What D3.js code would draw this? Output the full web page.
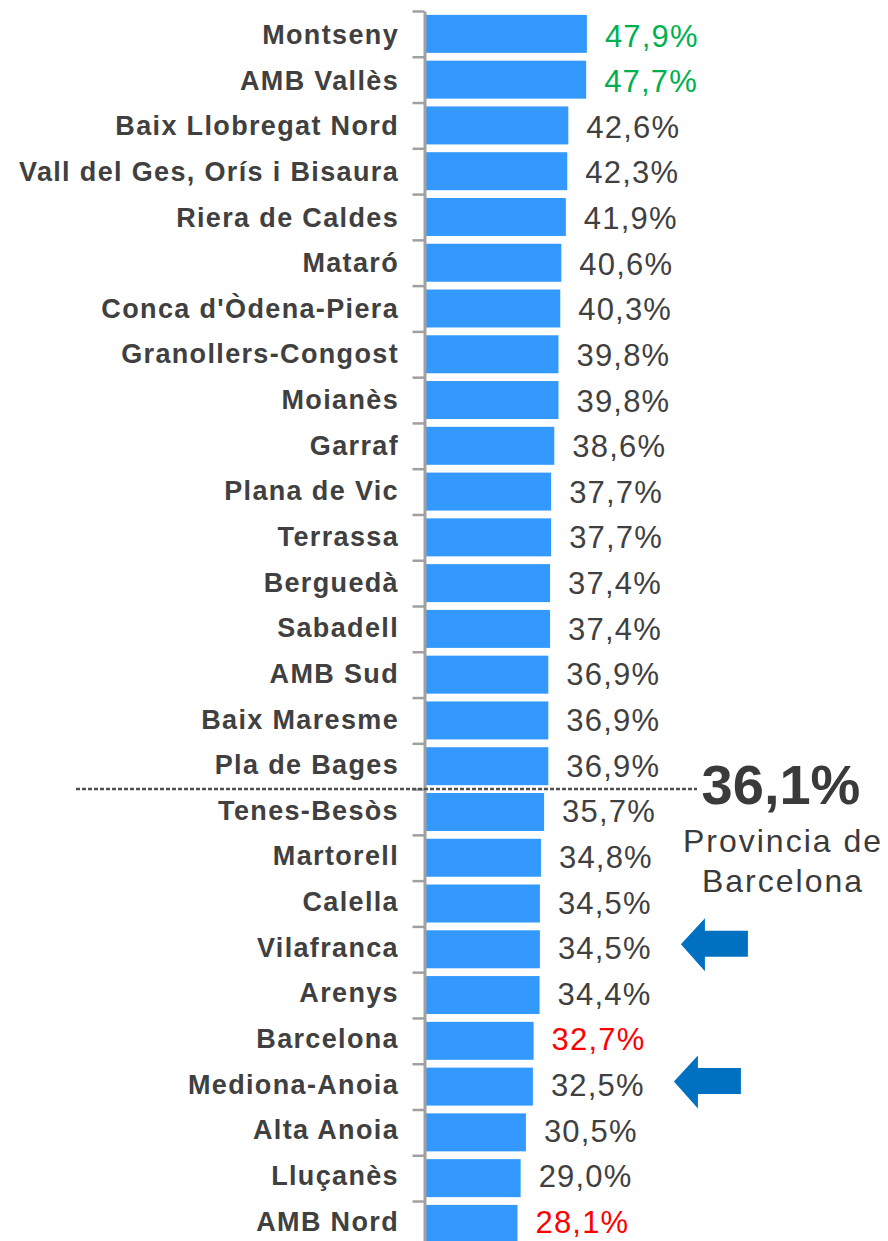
<!DOCTYPE html>
<html>
<head>
<meta charset="utf-8">
<script src="https://cdn.jsdelivr.net/npm/d3@7"></script>
<style>
    body { margin: 0; background: #fff; }
    svg { display: block; font-family: "Liberation Sans", Arial, sans-serif; }
</style>
</head>
<body>
<svg width="888" height="1241"></svg>
<script>
let comarques = ['Montseny', 'AMB Vallès', 'Baix Llobregat Nord', 'Vall del Ges, Orís i Bisaura',
        'Riera de Caldes', 'Mataró', "Conca d'Òdena-Piera", 'Granollers-Congost', 'Moianès', 'Garraf',
        'Plana de Vic', 'Terrassa', 'Berguedà', 'Sabadell', 'AMB Sud', 'Baix Maresme', 'Pla de Bages',
        'Tenes-Besòs', 'Martorell', 'Calella', 'Vilafranca', 'Arenys', 'Barcelona', 'Mediona-Anoia',
        'Alta Anoia', 'Lluçanès', 'AMB Nord'],
    valors = [47.9, 47.7, 42.6, 42.3, 41.9, 40.6, 40.3, 39.8, 39.8, 38.6, 37.7, 37.7, 37.4, 37.4,
        36.9, 36.9, 36.9, 35.7, 34.8, 34.5, 34.5, 34.4, 32.7, 32.5, 30.5, 29.0, 28.1],
    verds = ['Montseny', 'AMB Vallès'],          // green value labels
    vermells = ['Barcelona', 'AMB Nord'],        // red value labels
    fletxes = ['Vilafranca', 'Mediona-Anoia'],   // rows marked with an arrow
    provincia = 36.1,
    provincia_text = ['Provincia de', 'Barcelona'];

let fmt = v => v.toFixed(1).replace('.', ',') + '%';

let svg = d3.select('svg');

let yIdx = d3.scaleLinear()
    .domain([0, comarques.length])
    .range([11, 11 + comarques.length * 45.77]);

let yScale = d3.scaleBand()
    .domain(comarques)
    .range(yIdx.range())
    .paddingInner(0.17)
    .paddingOuter(0.085);

// text rows run on a slightly tighter pitch than the bars
let yText = d3.scaleLinear()
    .domain([0, comarques.length - 1])
    .range([34, 1220.5]);

let xScale = d3.scaleLinear()
    .domain([2, 50])
    .range([426, 426 + 48 * 3.505]);

let data = comarques.map((c, i) => ({name: c, value: valors[i], i: i}));

// bars
svg.append('g')
    .selectAll('rect')
    .data(data)
    .enter()
    .append('rect')
    .attr('x', xScale(2))
    .attr('y', d => yScale(d.name))
    .attr('width', d => xScale(d.value) - xScale(2))
    .attr('height', yScale.bandwidth())
    .style('fill', '#3399FF');

// axis with ticks on the band boundaries
let axis = svg.append('g')
    .attr('transform', 'translate(424.5,0)')
    .call(d3.axisLeft(yIdx)
        .tickValues(d3.range(comarques.length + 1))
        .tickSize(12)
        .tickSizeOuter(0)
        .tickFormat(''));

axis.select('.domain').attr('stroke', '#a0a0a0').attr('stroke-width', 3);
axis.selectAll('.tick line').attr('stroke', '#a0a0a0').attr('stroke-width', 2.5);

// category labels
svg.append('g')
    .selectAll('text')
    .data(data)
    .enter()
    .append('text')
    .attr('x', 399)
    .attr('y', d => yText(d.i) + 10)
    .attr('text-anchor', 'end')
    .style('font-size', '27px')
    .style('font-weight', 'bold')
    .style('letter-spacing', '1.35px')
    .style('fill', '#404040')
    .text(d => d.name);

// value labels
svg.append('g')
    .selectAll('text')
    .data(data)
    .enter()
    .append('text')
    .attr('x', d => xScale(d.value) + 18)
    .attr('y', d => yText(d.i) + 12.5)
    .style('font-size', '31px')
    .style('letter-spacing', '1.2px')
    .style('fill', d => {
        if (verds.includes(d.name)) return '#00B050';
        if (vermells.includes(d.name)) return '#FF0000';
        return '#404040';
    })
    .text(d => fmt(d.value));

// province average line, placed where it falls in the ranking
let pos = valors.findIndex(v => v < provincia),
    yLine = yIdx(pos);

svg.append('line')
    .attr('x1', 76)
    .attr('x2', 697)
    .attr('y1', yLine)
    .attr('y2', yLine)
    .attr('stroke', '#505050')
    .attr('stroke-width', 2.5)
    .attr('stroke-dasharray', '4,2');

let nota = svg.append('g')
    .attr('text-anchor', 'middle')
    .style('fill', '#3a3a3a');

nota.append('text')
    .attr('x', 781)
    .attr('y', yLine + 15)
    .style('font-size', '56px')
    .style('font-weight', 'bold')
    .text(fmt(provincia));

nota.selectAll('.sub')
    .data(provincia_text)
    .enter()
    .append('text')
    .attr('class', 'sub')
    .attr('x', 783)
    .attr('y', (d, i) => yLine + 63 + i * 40)
    .style('font-size', '32px')
    .style('letter-spacing', '2px')
    .text(d => d);

// arrows pointing at the highlighted rows
let arrow = 'M0,0 L24,-26 L24,-13.5 L67,-13.5 L67,12.5 L24,12.5 L24,27 Z';

svg.append('g')
    .selectAll('path')
    .data(data.filter(d => fletxes.includes(d.name)))
    .enter()
    .append('path')
    .attr('d', arrow)
    .attr('transform', d => `translate(${xScale(d.value) + 141},${yScale(d.name) + yScale.bandwidth() / 2 - 5})`)
    .style('fill', '#0070C0');
</script>
</body>
</html>
